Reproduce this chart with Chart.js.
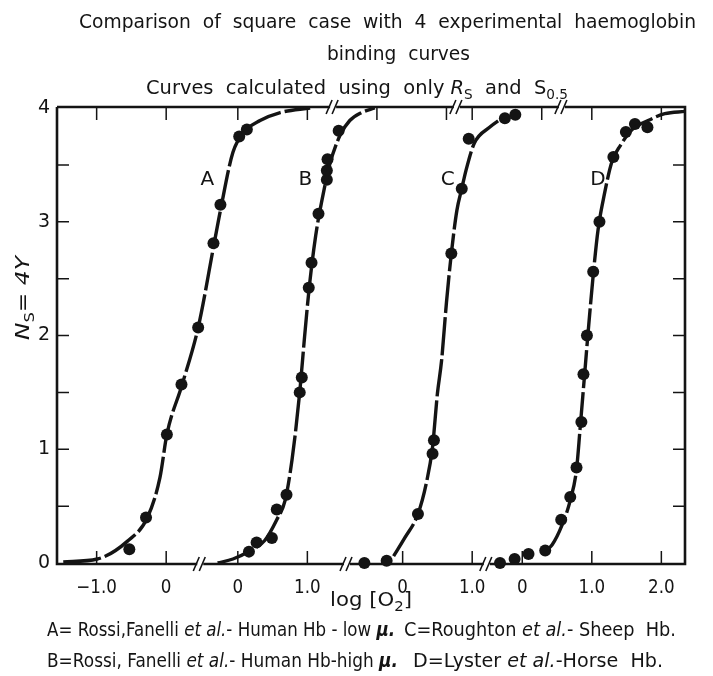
<!DOCTYPE html>
<html>
<head>
<meta charset="utf-8">
<script src="https://cdn.jsdelivr.net/npm/chart.js@4.4.1/dist/chart.umd.min.js"></script>
<style>
  html, body { margin: 0; padding: 0; background: #fff; }
</style>
</head>
<body>
<canvas id="chart" width="713" height="676"></canvas>
<script>
// Broken x axis: every curve has its own log[O2] zero, shifted along one shared axis
const SEGMENTS = ['A', 'B', 'C', 'D'];
const SEGMENT_OFFSET = [0, 1.03, 3.40, 5.12];

// Curve A - Rossi, Fanelli, human Hb, low ionic strength
const curveA_x = [-1.48, -0.99, -0.56, -0.27, -0.09, 0.01, 0.23, 0.46, 0.69, 0.78, 0.96, 1.14, 1.35, 1.64, 2.07];
const curveA_y = [0.01, 0.035, 0.19, 0.40, 0.75, 1.13, 1.57, 2.07, 2.81, 3.10, 3.61, 3.80, 3.89, 3.96, 4.0];
const dotsA_x = [-0.53, -0.29, 0.01, 0.22, 0.46, 0.68, 0.78, 1.05, 1.16];
const dotsA_y = [0.12, 0.40, 1.13, 1.57, 2.07, 2.81, 3.15, 3.75, 3.81];

// Curve B - Rossi, Fanelli, human Hb, high ionic strength
const curveB_x = [-0.29, -0.07, 0.17, 0.39, 0.56, 0.68, 0.78, 0.89, 0.96, 1.03, 1.12, 1.21, 1.32, 1.47, 1.61, 1.78, 1.97];
const curveB_y = [0, 0.035, 0.105, 0.20, 0.38, 0.55, 0.91, 1.50, 1.99, 2.44, 2.88, 3.19, 3.50, 3.76, 3.89, 3.96, 4.0];
const dotsB_x = [0.16, 0.27, 0.49, 0.56, 0.70, 0.89, 0.92, 1.02, 1.06, 1.16, 1.28, 1.28, 1.29, 1.45];
const dotsB_y = [0.10, 0.18, 0.22, 0.47, 0.60, 1.50, 1.63, 2.42, 2.64, 3.07, 3.37, 3.45, 3.55, 3.80];

// Curve C - Roughton, sheep Hb
const curveC_x = [-0.13, 0.03, 0.22, 0.34, 0.43, 0.50, 0.56, 0.63, 0.70, 0.78, 0.85, 0.91, 1.03, 1.25, 1.45];
const curveC_y = [0.06, 0.22, 0.43, 0.70, 1.02, 1.49, 1.78, 2.29, 2.72, 3.10, 3.29, 3.45, 3.69, 3.83, 3.92];
const dotsC_x = [-0.55, -0.23, 0.22, 0.43, 0.45, 0.70, 0.85, 0.95, 1.47, 1.62];
const dotsC_y = [0.0, 0.02, 0.43, 0.96, 1.08, 2.72, 3.29, 3.73, 3.91, 3.94];

// Curve D - Lyster, horse Hb
const curveD_x = [0.36, 0.43, 0.57, 0.69, 0.78, 0.83, 0.89, 0.95, 1.02, 1.09, 1.18, 1.29, 1.41, 1.58, 1.81, 2.05, 2.34];
const curveD_y = [0.12, 0.16, 0.33, 0.55, 0.82, 1.17, 1.61, 2.05, 2.53, 2.93, 3.24, 3.53, 3.67, 3.81, 3.89, 3.95, 3.97];
const dotsD_x = [-0.32, -0.11, 0.09, 0.33, 0.56, 0.69, 0.78, 0.85, 0.88, 0.93, 1.02, 1.11, 1.31, 1.49, 1.62, 1.80];
const dotsD_y = [0.0, 0.035, 0.08, 0.11, 0.38, 0.58, 0.84, 1.24, 1.66, 2.00, 2.56, 3.00, 3.57, 3.79, 3.86, 3.83];

// curve letters, in each segment's own units
const letterX = [0.59, 0.97, 0.65, 1.09];
const letterY = [3.37, 3.37, 3.37, 3.37];

// axis ticks
const yTickValues = [0, 1, 2, 3, 4];
const yMinorTicks = [0.5, 1, 1.5, 2, 2.5, 3, 3.5];
const bottomTickSeg = ['A', 'A', 'B', 'B', 'C', 'C', 'D', 'D', 'D'];
const bottomTickVal = [-1, 0, 0, 1, 0, 1, 0, 1, 2];
const bottomTickLabels = ['\u22121.0', '0', '0', '1.0', '0', '1.0', '0', '1.0', '2.0'];
const topTickSeg = ['A', 'A', 'B', 'B', 'B', 'B', 'C', 'C', 'D', 'D'];
const topTickVal = [-1, 0, 0, 1, 2, 3, 1, 2, 1, 2];
// axis breaks, in shared-axis units
const bottomBreaks = [0.49, 2.60, 4.61];
const topBreaks = [2.40, 4.18, 5.69];

const X_MIN = -1.57;
const X_MAX = 7.46;
const INK = '#141414';
const FONT = '"DejaVu Sans", sans-serif';

function shared(seg, v) {
  return v + SEGMENT_OFFSET[SEGMENTS.indexOf(seg)];
}

function points(seg, xs, ys) {
  return xs.map((x, i) => ({ x: shared(seg, x), y: ys[i] }));
}

const curves = [
  ['A', curveA_x, curveA_y],
  ['B', curveB_x, curveB_y],
  ['C', curveC_x, curveC_y],
  ['D', curveD_x, curveD_y],
];
const dots = [
  ['A', dotsA_x, dotsA_y],
  ['B', dotsB_x, dotsB_y],
  ['C', dotsC_x, dotsC_y],
  ['D', dotsD_x, dotsD_y],
];

const datasets = [];
curves.forEach(([seg, xs, ys]) => {
  datasets.push({
    label: 'Curve ' + seg,
    data: points(seg, xs, ys),
    borderColor: INK,
    borderWidth: 3.4,
    borderDash: [38, 4],
    pointRadius: 0,
    cubicInterpolationMode: 'monotone',
    fill: false,
    clip: false,
  });
});
dots.forEach(([seg, xs, ys]) => {
  datasets.push({
    label: 'Data ' + seg,
    data: points(seg, xs, ys),
    showLine: false,
    pointRadius: 6,
    pointBackgroundColor: INK,
    pointBorderWidth: 0,
    clip: false,
  });
});

// draws a run of text pieces; squeezed to a width, or by a fixed factor k
function rich(ctx, parts, x, y, o) {
  const size = o.size || 20;
  const fontOf = (p) => `${p.i ? 'italic ' : ''}${p.b ? 'bold ' : ''}${size * (p.s || 1)}px ${FONT}`;
  let total = 0;
  const widths = parts.map((p) => {
    ctx.font = fontOf(p);
    const w = ctx.measureText(p.t).width;
    total += w;
    return w;
  });
  const k = o.width ? o.width / total : (o.k || 1);
  ctx.save();
  ctx.translate(x, y);
  ctx.scale(k, 1);
  let cx = o.align === 'center' ? -total / 2 : 0;
  ctx.textAlign = 'left';
  ctx.textBaseline = 'alphabetic';
  parts.forEach((p, i) => {
    ctx.font = fontOf(p);
    ctx.fillText(p.t, cx, p.dy || 0);
    cx += widths[i];
  });
  ctx.restore();
  return k;
}

const paperPlugin = {
  id: 'paper',
  beforeDraw(chart) {
    const ctx = chart.ctx;
    ctx.save();
    ctx.fillStyle = '#fff';
    ctx.fillRect(0, 0, chart.width, chart.height);
    ctx.restore();
  },
  beforeDatasetsDraw(chart) {
    const { ctx, chartArea: a, scales } = chart;
    const xs = scales.x, ys = scales.y;
    ctx.save();
    ctx.strokeStyle = INK;
    ctx.lineCap = 'butt';

    // frame
    ctx.lineWidth = 2.6;
    ctx.beginPath();
    ctx.moveTo(a.left, a.top - 1);
    ctx.lineTo(a.left, a.bottom + 1);
    ctx.lineTo(a.right, a.bottom + 1);
    ctx.lineTo(a.right, a.top - 1);
    ctx.lineTo(a.left, a.top - 1);
    ctx.stroke();

    // inward ticks
    ctx.lineWidth = 1.5;
    const tl = 12;
    ctx.beginPath();
    yMinorTicks.forEach((v) => {
      const py = ys.getPixelForValue(v);
      ctx.moveTo(a.left, py); ctx.lineTo(a.left + tl, py);
      ctx.moveTo(a.right, py); ctx.lineTo(a.right - tl, py);
    });
    bottomTickVal.forEach((v, i) => {
      const px = xs.getPixelForValue(shared(bottomTickSeg[i], v));
      ctx.moveTo(px, a.bottom); ctx.lineTo(px, a.bottom - tl);
    });
    topTickVal.forEach((v, i) => {
      const px = xs.getPixelForValue(shared(topTickSeg[i], v));
      ctx.moveTo(px, a.top); ctx.lineTo(px, a.top + tl);
    });
    ctx.stroke();

    // axis breaks "//"
    const drawBreak = (u, py) => {
      const px = xs.getPixelForValue(u);
      ctx.fillStyle = '#fff';
      ctx.fillRect(px - 3, py - 3, 6, 6);
      ctx.lineWidth = 1.6;
      ctx.beginPath();
      ctx.moveTo(px - 7, py + 7); ctx.lineTo(px - 1, py - 7);
      ctx.moveTo(px - 1, py + 7); ctx.lineTo(px + 5, py - 7);
      ctx.stroke();
    };
    bottomBreaks.forEach((u) => drawBreak(u, a.bottom + 1));
    topBreaks.forEach((u) => drawBreak(u, a.top - 1));
    ctx.restore();
  },
  afterDraw(chart) {
    const { ctx, chartArea: a, scales } = chart;
    const xs = scales.x, ys = scales.y;
    ctx.save();
    ctx.fillStyle = INK;

    // y tick labels
    ctx.font = `19px ${FONT}`;
    ctx.textAlign = 'right';
    ctx.textBaseline = 'middle';
    yTickValues.forEach((v) => {
      ctx.fillText(String(v), a.left - 7, ys.getPixelForValue(v));
    });

    // x tick labels
    ctx.textAlign = 'center';
    ctx.textBaseline = 'alphabetic';
    bottomTickVal.forEach((v, i) => {
      const px = xs.getPixelForValue(shared(bottomTickSeg[i], v));
      ctx.save();
      ctx.translate(px, a.bottom + 30);
      ctx.scale(0.88, 1);
      ctx.fillText(bottomTickLabels[i], 0, 0);
      ctx.restore();
    });

    // curve letters
    ctx.font = `20px ${FONT}`;
    ctx.textBaseline = 'middle';
    SEGMENTS.forEach((seg, i) => {
      ctx.fillText(seg, xs.getPixelForValue(shared(seg, letterX[i])), ys.getPixelForValue(letterY[i]));
    });

    // x axis title
    rich(ctx, [{ t: 'log [O' }, { t: '2', s: 0.7, dy: 5 }, { t: ']' }], 371, 606, { width: 82, size: 19, align: 'center' });

    // y axis title
    ctx.save();
    ctx.translate(29, 298);
    ctx.rotate(-Math.PI / 2);
    rich(ctx, [{ t: 'N', i: true }, { t: 'S', s: 0.7, dy: 5 }, { t: '= ' }, { t: '4Y', i: true }], 0, 0, { width: 84, size: 20, align: 'center' });
    ctx.restore();

    // titles
    rich(ctx, [{ t: 'Comparison  of  square  case  with  4  experimental  haemoglobin' }], 79, 28, { width: 617, size: 20 });
    rich(ctx, [{ t: 'binding  curves' }], 327, 60, { width: 143, size: 20 });
    rich(ctx, [
      { t: 'Curves  calculated  using  only ' },
      { t: 'R', i: true },
      { t: 'S', s: 0.7, dy: 5 },
      { t: '  and  S' },
      { t: '0.5', s: 0.7, dy: 5 },
    ], 146, 94, { width: 422, size: 20 });

    // key
    rich(ctx, [
      { t: 'A= Rossi,Fanelli ' }, { t: 'et al.', i: true }, { t: '- Human Hb - low ' }, { t: '\u03bc.', i: true, b: true },
    ], 47, 636, { width: 348, size: 19.5 });
    rich(ctx, [
      { t: 'C=Roughton ' }, { t: 'et al.', i: true }, { t: '- Sheep  Hb.' },
    ], 404, 636, { width: 272, size: 19.5 });
    rich(ctx, [
      { t: 'B=Rossi, Fanelli ' }, { t: 'et al.', i: true }, { t: '- Human Hb-high ' }, { t: '\u03bc.', i: true, b: true },
    ], 47, 667, { width: 351, size: 19.5 });
    rich(ctx, [
      { t: 'D=Lyster ' }, { t: 'et al.', i: true }, { t: '-Horse  Hb.' },
    ], 413, 667, { width: 250, size: 19.5 });

    ctx.restore();
  },
};

new Chart(document.getElementById('chart').getContext('2d'), {
  type: 'line',
  data: { datasets },
  options: {
    responsive: false,
    animation: false,
    layout: { padding: { left: 57, right: 28, top: 108, bottom: 113 } },
    scales: {
      x: { type: 'linear', display: false, min: X_MIN, max: X_MAX },
      y: { type: 'linear', display: false, min: 0, max: 4 },
    },
    plugins: {
      legend: { display: false },
      tooltip: { enabled: false },
      title: { display: false },
    },
  },
  plugins: [paperPlugin],
});
</script>
</body>
</html>
